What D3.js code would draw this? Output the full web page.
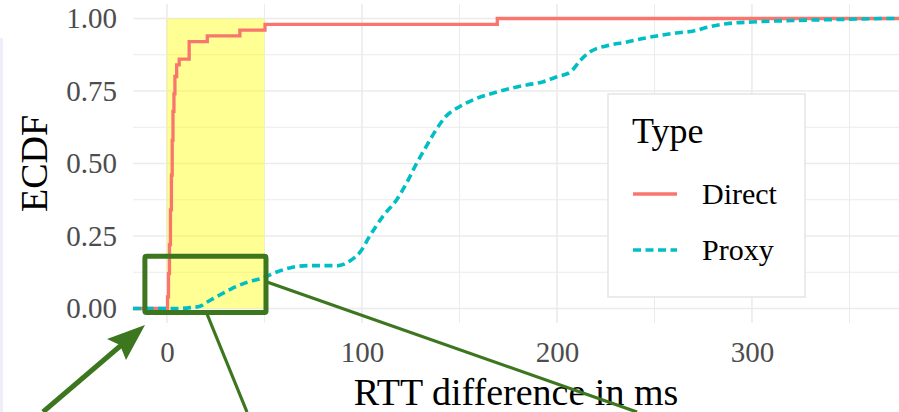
<!DOCTYPE html>
<html>
<head>
<meta charset="utf-8">
<script src="https://cdn.jsdelivr.net/npm/d3@7"></script>
<style>
  body { margin: 0; background: #fff; }
  svg { display: block; font-family: "Liberation Serif", "DejaVu Serif", serif; }
</style>
</head>
<body>
<script>
// ECDF knots (rtt in ms, cumulative share)
var directRtt  = [0.3, 0.8, 1.3, 1.8, 2.3, 2.7, 3.1, 3.6, 4.1, 5.0, 6.3, 11.4, 20.7, 37.4, 50.3, 169.4];
var directEcdf = [0.04, 0.12, 0.22, 0.34, 0.46, 0.58, 0.68, 0.74, 0.80, 0.84, 0.86, 0.92, 0.94, 0.96, 0.98, 1.00];

var proxyRtt  = [5, 12, 17, 20, 24, 28, 33, 41, 49, 56, 65, 73, 88, 94, 99, 104, 111, 118, 123, 128, 133, 138, 143, 150, 159, 167, 176, 184.5, 193, 200, 207, 212, 217, 227, 236, 244, 253, 261, 270, 278, 287, 300, 321, 347, 372];
var proxyEcdf = [0, 0.003, 0.008, 0.02, 0.035, 0.05, 0.068, 0.09, 0.105, 0.125, 0.143, 0.148, 0.148, 0.165, 0.194, 0.25, 0.32, 0.377, 0.434, 0.5, 0.559, 0.616, 0.662, 0.696, 0.725, 0.742, 0.759, 0.771, 0.782, 0.799, 0.816, 0.856, 0.885, 0.908, 0.919, 0.931, 0.942, 0.95, 0.957, 0.971, 0.982, 0.988, 0.993, 0.997, 1.0];

var typeNames  = ['Direct', 'Proxy'];
var typeColors = ['#F8766D', '#00BFC4'];
var typeDash   = [null, '8,4.5'];

var xTicks = [0, 100, 200, 300];
var xMinor = [50, 150, 250, 350];
var yTicks = [0, 0.25, 0.5, 0.75, 1];
var yMinor = [0.125, 0.375, 0.625, 0.875];

var highlightRtt = [0, 50];   // shaded band
var zoomBoxRtt  = [-11.3, 50.8];
var zoomBoxEcdf = [-0.014, 0.18];

var W = 899, H = 412;
var panel = {left: 133, right: 899, top: 4, bottom: 323};
var green = '#3c761f';

var svg = d3.select('body').append('svg')
  .attr('width', W).attr('height', H);

// stray strip at the left edge of the screenshot
svg.append('rect').attr('x', 0).attr('y', 38).attr('width', 3).attr('height', H - 38)
  .attr('fill', '#eeeefb');

var x = d3.scaleLinear().domain([-17.4, 375.4]).range([panel.left, panel.right]);
var y = d3.scaleLinear().domain([-0.05, 1.05]).range([panel.bottom, panel.top]);

var grid = svg.append('g');
grid.selectAll('.hmin').data(yMinor).enter().append('line')
  .attr('x1', panel.left).attr('x2', panel.right)
  .attr('y1', function(d){ return y(d); }).attr('y2', function(d){ return y(d); })
  .attr('stroke', '#ebebeb').attr('stroke-width', 1);
grid.selectAll('.vmin').data(xMinor).enter().append('line')
  .attr('y1', panel.top).attr('y2', panel.bottom)
  .attr('x1', function(d){ return x(d); }).attr('x2', function(d){ return x(d); })
  .attr('stroke', '#ebebeb').attr('stroke-width', 1);
grid.selectAll('.hmaj').data(yTicks).enter().append('line')
  .attr('x1', panel.left).attr('x2', panel.right)
  .attr('y1', function(d){ return y(d); }).attr('y2', function(d){ return y(d); })
  .attr('stroke', '#ebebeb').attr('stroke-width', 1.6);
grid.selectAll('.vmaj').data(xTicks).enter().append('line')
  .attr('y1', panel.top).attr('y2', panel.bottom)
  .attr('x1', function(d){ return x(d); }).attr('x2', function(d){ return x(d); })
  .attr('stroke', '#ebebeb').attr('stroke-width', 1.6);

// highlighted band
svg.append('rect')
  .attr('x', x(highlightRtt[0])).attr('width', x(highlightRtt[1]) - x(highlightRtt[0]))
  .attr('y', y(1)).attr('height', y(0) - y(1))
  .attr('fill', 'yellow').attr('opacity', 0.42);

// ecdf lines, padded to the panel edges like stat_ecdf
var pad = function(xs, ys){
  var pts = [[x.domain()[0], 0]];
  xs.forEach(function(v, i){ pts.push([v, ys[i]]); });
  pts.push([x.domain()[1], 1]);
  return pts;
};

var directLine = d3.line().curve(d3.curveStepAfter)
  .x(function(d){ return x(d[0]); }).y(function(d){ return y(d[1]); });
var proxyLine = d3.line().curve(d3.curveMonotoneX)
  .x(function(d){ return x(d[0]); }).y(function(d){ return y(d[1]); });

svg.append('path').datum(pad(directRtt, directEcdf))
  .attr('d', directLine).attr('fill', 'none')
  .attr('stroke', typeColors[0]).attr('stroke-width', 3.3);
svg.append('path').datum(pad(proxyRtt, proxyEcdf))
  .attr('d', proxyLine).attr('fill', 'none')
  .attr('stroke', typeColors[1]).attr('stroke-width', 3.6)
  .attr('stroke-dasharray', typeDash[1]);

// axes
var xAxis = svg.append('g').attr('transform', 'translate(0,' + panel.bottom + ')')
  .call(d3.axisBottom(x).tickValues(xTicks).tickSize(0).tickPadding(18).tickFormat(d3.format('d')));
var yAxis = svg.append('g').attr('transform', 'translate(' + panel.left + ',0)')
  .call(d3.axisLeft(y).tickValues(yTicks).tickSize(0).tickPadding(16).tickFormat(d3.format('.2f')));
[xAxis, yAxis].forEach(function(a){
  a.select('.domain').remove();
  a.selectAll('text').attr('fill', '#4d4d4d')
    .style('font-size', '29px').style('font-family', '"Liberation Serif", serif');
});

svg.append('text').attr('x', (panel.left + panel.right) / 2).attr('y', 405)
  .attr('text-anchor', 'middle').attr('fill', '#000')
  .style('font-size', '38px').text('RTT difference in ms');
svg.append('text').attr('transform', 'translate(47,' + ((panel.top + panel.bottom) / 2) + ') rotate(-90)')
  .attr('text-anchor', 'middle').attr('fill', '#000')
  .style('font-size', '38px').text('ECDF');

// legend
var legend = svg.append('g');
legend.append('rect').attr('x', 608).attr('y', 94).attr('width', 197).attr('height', 203)
  .attr('fill', '#fff').attr('stroke', '#e6e6e6').attr('stroke-width', 1.6);
legend.append('text').attr('x', 632).attr('y', 143).style('font-size', '36px').text('Type');
var entries = legend.selectAll('.entry').data(typeNames).enter().append('g')
  .attr('transform', function(d, i){ return 'translate(0,' + (194 + i * 56) + ')'; });
entries.append('line').attr('x1', 633).attr('x2', 677).attr('y1', 0).attr('y2', 0)
  .attr('stroke', function(d, i){ return typeColors[i]; }).attr('stroke-width', 3.3)
  .attr('stroke-dasharray', function(d, i){ return typeDash[i]; });
entries.append('text').attr('x', 702).attr('y', 10)
  .style('font-size', '30px').text(function(d){ return d; });

// zoom box + pointers
svg.append('rect')
  .attr('x', x(zoomBoxRtt[0])).attr('width', x(zoomBoxRtt[1]) - x(zoomBoxRtt[0]))
  .attr('y', y(zoomBoxEcdf[1])).attr('height', y(zoomBoxEcdf[0]) - y(zoomBoxEcdf[1]))
  .attr('rx', 1.5).attr('fill', 'none').attr('stroke', green).attr('stroke-width', 5);

svg.append('line').attr('x1', 207).attr('y1', 314).attr('x2', 247).attr('y2', 412)
  .attr('stroke', green).attr('stroke-width', 3.2);
svg.append('line').attr('x1', 267).attr('y1', 282).attr('x2', 637).attr('y2', 412)
  .attr('stroke', green).attr('stroke-width', 3.2);

svg.append('line').attr('x1', 43).attr('y1', 412).attr('x2', 132).attr('y2', 336)
  .attr('stroke', green).attr('stroke-width', 5);
svg.append('path').attr('d', 'M145,325 L107,339 L120,345 L126,360 Z').attr('fill', green);
</script>
</body>
</html>
